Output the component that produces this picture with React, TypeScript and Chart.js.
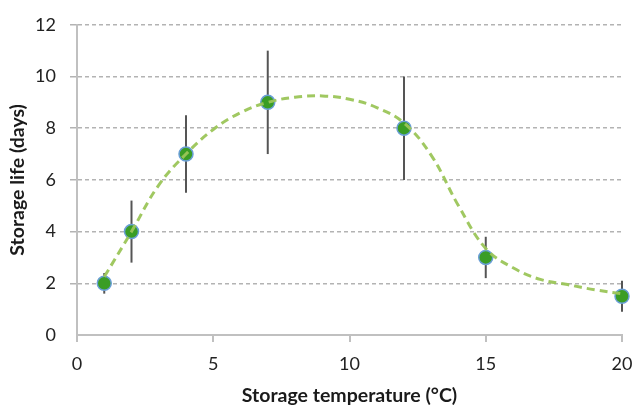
import React, { useEffect, useRef } from "react";
import { Chart, registerables } from "chart.js";

Chart.register(...registerables);

// Measured points
const temperatures = [1, 2, 4, 7, 12, 15, 20];
const storageLife = [2, 4, 7, 9, 8, 3, 1.5];
const errorSize = [0.4, 1.2, 1.5, 2, 2, 0.8, 0.6];

// Fitted trend curve
const curveX = [1, 2, 3, 4, 5, 6, 7, 8, 9, 10, 11, 12, 13, 14, 15, 16, 17, 18, 19, 20, 20.5];
const curveY = [2.25, 4.0, 5.8, 7.0, 7.95, 8.6, 9.0, 9.2, 9.25, 9.12, 8.8, 8.2, 6.95, 5.0, 3.35, 2.6, 2.15, 1.95, 1.75, 1.6, 1.57];

const xTicks = [0, 5, 10, 15, 20];
const yTicks = [0, 2, 4, 6, 8, 10, 12];

const FONT = "Lato";

const errorBarPlugin = {
  id: "errorBars",
  beforeDatasetsDraw(chart: any) {
    const { ctx, scales } = chart;
    const xs = scales.x;
    const ys = scales.y;
    ctx.save();
    ctx.strokeStyle = "#555555";
    ctx.lineWidth = 2;
    temperatures.forEach((t, i) => {
      const px = xs.getPixelForValue(t);
      const top = ys.getPixelForValue(storageLife[i] + errorSize[i]);
      const bot = ys.getPixelForValue(storageLife[i] - errorSize[i]);
      ctx.beginPath();
      ctx.moveTo(px, top);
      ctx.lineTo(px, bot);
      ctx.stroke();
    });
    ctx.restore();
  },
};

export default function App() {
  const ref = useRef<HTMLCanvasElement | null>(null);

  useEffect(() => {
    document.body.style.margin = "0";
    const canvas = ref.current;
    if (!canvas) return;
    const chart = new Chart(canvas, {
      type: "line",
      data: {
        datasets: [
          {
            label: "trend",
            data: curveX.map((x, i) => ({ x, y: curveY[i] })),
            borderColor: "rgba(155,197,88,0.95)",
            borderWidth: 3,
            borderDash: [8, 5],
            pointRadius: 0,
            tension: 0.4,
            fill: false,
            clip: false as any,
          },
          {
            label: "points",
            data: temperatures.map((x, i) => ({ x, y: storageLife[i] })),
            showLine: false,
            pointRadius: 7,
            pointBackgroundColor: "#3a9d25",
            pointBorderColor: "#6a9fd6",
            pointBorderWidth: 1.5,
            clip: false as any,
          },
        ],
      },
      options: {
        animation: false,
        responsive: false,
        maintainAspectRatio: false,
        layout: { padding: { top: 22, right: 12, left: 0, bottom: 0 } },
        plugins: {
          legend: { display: false },
          tooltip: { enabled: false },
        },
        scales: {
          x: {
            type: "linear",
            min: 0,
            max: 20,
            afterBuildTicks: (s: any) => {
              s.ticks = xTicks.map((v) => ({ value: v }));
            },
            afterFit: (s: any) => {
              s.height = 70;
              s.paddingLeft = 0;
              s.paddingRight = 0;
            },
            ticks: {
              color: "#222222",
              font: { family: FONT, size: 18 },
              padding: 11,
            },
            grid: {
              drawOnChartArea: false,
              drawTicks: true,
              tickLength: 7,
              color: "#c0c0c0",
              lineWidth: 2,
            },
            border: { display: true, color: "#c0c0c0", width: 2 },
            title: {
              display: true,
              text: "Storage temperature (°C)",
              color: "#1a1a1a",
              font: { family: FONT, size: 19.5, weight: "bold", lineHeight: 1 },
              padding: { top: 0, bottom: 0 },
            },
          },
          y: {
            type: "linear",
            min: 0,
            max: 12,
            afterBuildTicks: (s: any) => {
              s.ticks = yTicks.map((v) => ({ value: v }));
            },
            afterFit: (s: any) => {
              s.width = 77;
            },
            ticks: {
              color: "#222222",
              font: { family: FONT, size: 18 },
              padding: 14,
            },
            grid: {
              drawTicks: true,
              tickLength: 7,
              color: (c: any) => (c.tick && c.tick.value === 0 ? "rgba(0,0,0,0)" : "#b3b3b3"),
              lineWidth: 1.5,
            },
            border: { display: true, color: "#c0c0c0", width: 2, dash: [4, 3] },
            title: {
              display: true,
              text: "Storage life (days)",
              color: "#1a1a1a",
              font: { family: FONT, size: 19.5, weight: "bold", lineHeight: 1 },
              padding: { top: 8, bottom: 0 },
            },
          },
        },
      },
      plugins: [errorBarPlugin],
    });
    return () => chart.destroy();
  }, []);

  return (
    <div style={{ width: 634, height: 405, background: "#ffffff" }}>
      <canvas ref={ref} width={634} height={405} style={{ display: "block" }} />
    </div>
  );
}
